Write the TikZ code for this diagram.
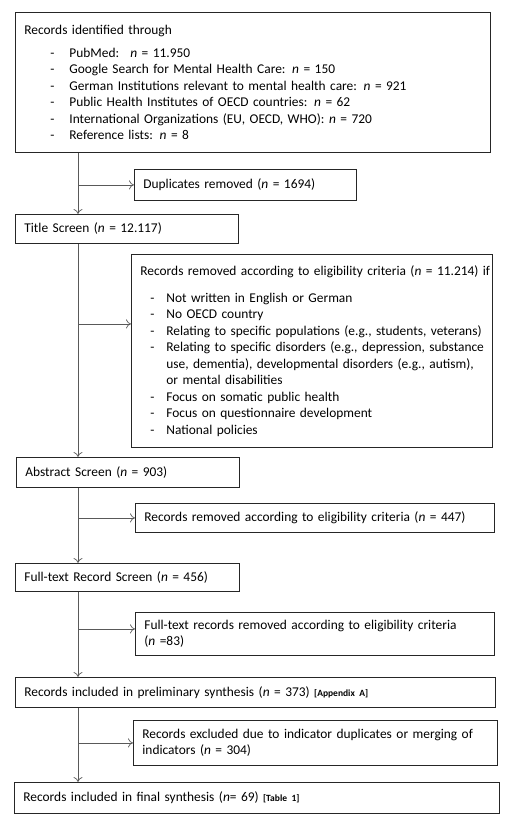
\documentclass[tikz,border=0pt]{standalone}
\usepackage{fontspec}
\setmainfont{Carlito}
\usetikzlibrary{arrows.meta,positioning}

\newcommand{\nn}{\textit{n}}
\newcommand{\srcitem}[1]{\mbox{\hspace*{26pt}\makebox[19pt][l]{-}#1}}
\newcommand{\critem}[1]{\mbox{\hspace*{10pt}\makebox[16pt][l]{-}#1}}
\newcommand{\critcont}[1]{\mbox{\hspace*{26pt}#1}}
\newcommand{\reftag}[1]{{\fontsize{9.5}{11}\selectfont\bfseries #1}}

\begin{document}
\begin{tikzpicture}[x=1pt, y=-1pt,
    box/.style={draw=black!85, line width=0.8pt, anchor=north west, align=left,
        inner xsep=9pt, inner ysep=0pt, font=\fontsize{13.4}{16.5}\selectfont},
    flow/.style={draw=black!65, line width=0.7pt, -{To[length=5pt,width=9pt]}}]
    \useasboundingbox (0,0) rectangle (510,820);
    \coordinate (spine) at (78,0);

    \node[box, text width=457pt, minimum height=140pt] (sources) at (15,12) {Records identified through\\[6.5pt]
        \srcitem{PubMed: \ \nn{} = 11.950}\\
        \srcitem{Google Search for Mental Health Care: \nn{} = 150}\\
        \srcitem{German Institutions relevant to mental health care: \nn{} = 921}\\
        \srcitem{Public Health Institutes of OECD countries: \nn{} = 62}\\
        \srcitem{International Organizations (EU, OECD, WHO): \nn{} = 720}\\
        \srcitem{Reference lists: \nn{} = 8}\\[4pt]};
    \node[box, text width=204pt, minimum height=31pt] (dup) at (134,169) {Duplicates removed (\nn{} = 1694)};
    \node[box, text width=205pt, minimum height=29pt] (title) at (15,214) {Title Screen (\nn{} = 12.117)};
    \node[box, text width=343pt, minimum height=193pt] (crit) at (131,254) {\mbox{Records removed according to eligibility criteria (\nn{} = 11.214) if}\\[10.5pt]
        \critem{Not written in English or German}\\
        \critem{No OECD country}\\
        \critem{Relating to specific populations (e.g., students, veterans)}\\
        \critem{Relating to specific disorders (e.g., depression, substance}\\
        \critcont{use, dementia), developmental disorders (e.g., autism),}\\
        \critcont{or mental disabilities}\\
        \critem{Focus on somatic public health}\\
        \critem{Focus on questionnaire development}\\
        \critem{National policies}};
    \node[box, text width=205pt, minimum height=30pt] (abstract) at (16,457) {Abstract Screen (\nn{} = 903)};
    \node[box, text width=341pt, minimum height=29pt] (rem447) at (135,503) {Records removed according to eligibility criteria (\nn{} = 447)};
    \node[box, text width=206pt, minimum height=28pt] (fulltext) at (15,563) {Full-text Record Screen (\nn{} = 456)};
    \node[box, text width=341pt, minimum height=43pt] (rem83) at (135,612) {\mbox{Full-text records removed according to eligibility criteria}\\(\nn{} =83)};
    \node[box, text width=462pt, minimum height=30pt] (prelim) at (15,677) {Records included in preliminary synthesis (\nn{} = 373) \reftag{[Appendix A]}};
    \node[box, text width=346pt, minimum height=45pt] (excl) at (133,720) {\mbox{Records excluded due to indicator duplicates or merging of}\\indicators (\nn{} = 304)};
    \node[box, text width=467pt, minimum height=31pt] (final) at (14,782) {Records included in final synthesis (\nn{}= 69) \reftag{[Table 1]}};

    % main flow
    \draw[flow] (sources.south -| spine) -- (title.north -| spine);
    \draw[flow] (title.south -| spine) -- (abstract.north -| spine);
    \draw[flow] (abstract.south -| spine) -- (fulltext.north -| spine);
    \draw[flow] (fulltext.south -| spine) -- (prelim.north -| spine);
    \draw[flow] (prelim.south -| spine) -- (final.north -| spine);

    % exclusions
    \coordinate (critin) at ([yshift=27pt]crit.west);
    \coordinate (rem83in) at ([yshift=5pt]rem83.west);
    \draw[flow] (spine |- dup.west) -- (dup.west);
    \draw[flow] (spine |- critin) -- (critin);
    \draw[flow] (spine |- rem447.west) -- (rem447.west);
    \draw[flow] (spine |- rem83in) -- (rem83in);
    \draw[flow] (spine |- excl.west) -- (excl.west);
\end{tikzpicture}
\end{document}
